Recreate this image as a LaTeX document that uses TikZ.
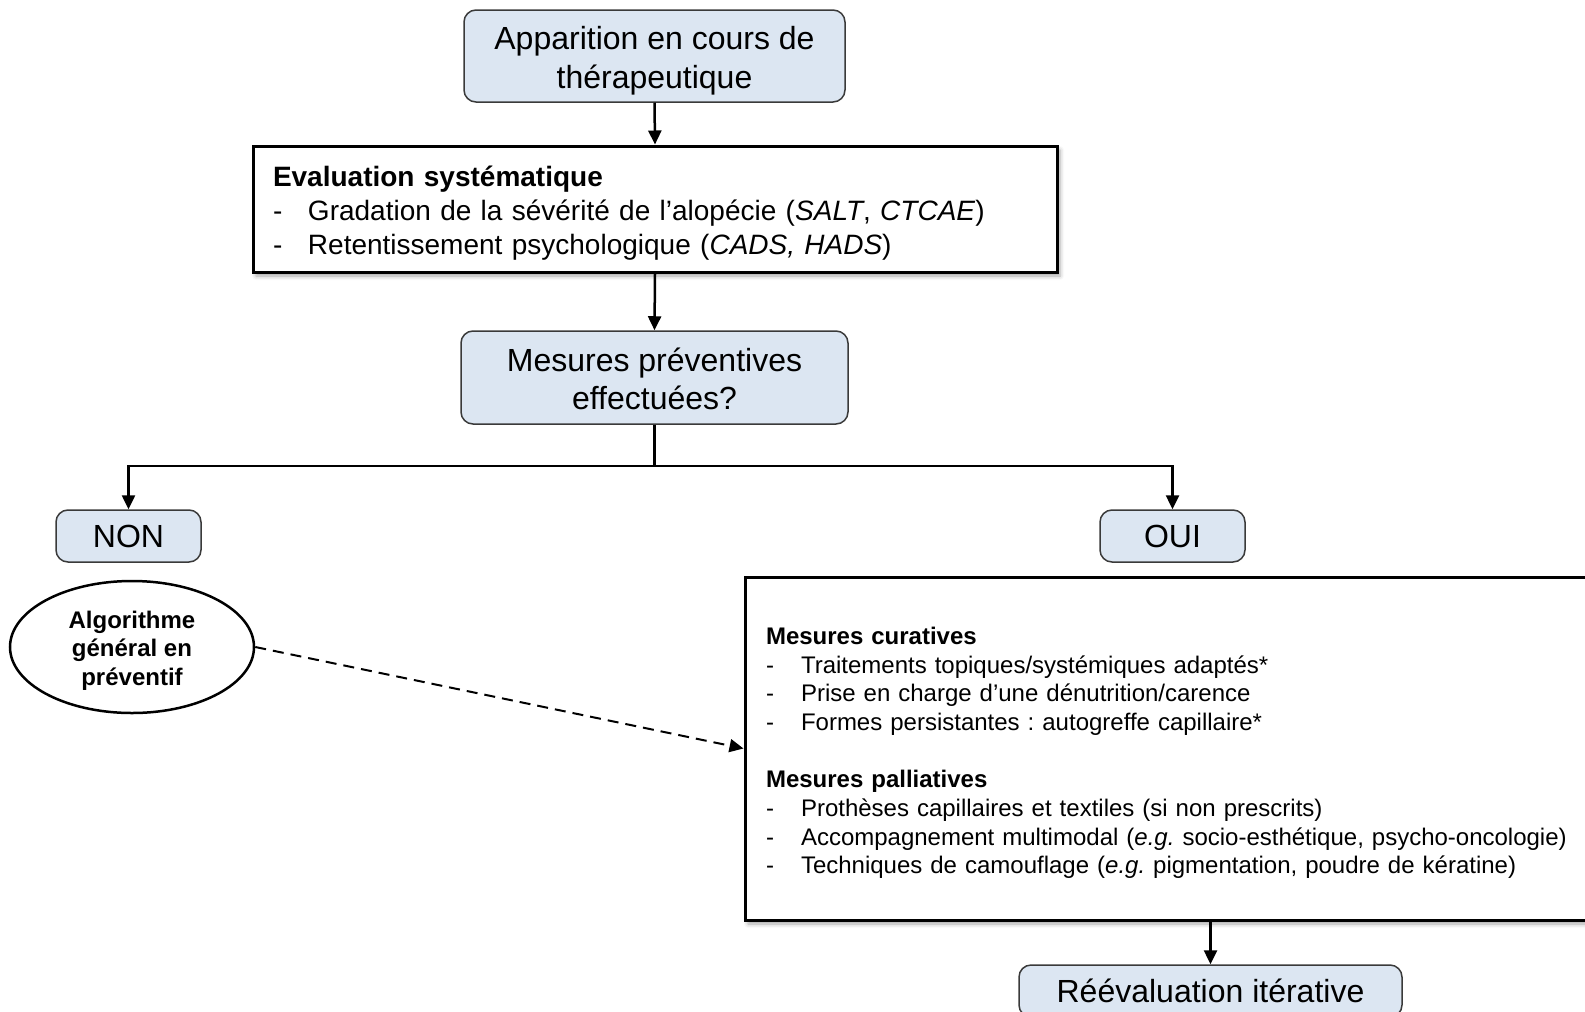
\documentclass[tikz,border=0pt]{standalone}
\usepackage{fontspec}
\setmainfont{Liberation Sans}
\usetikzlibrary{arrows.meta,shapes.geometric,shadows.blur}
\frenchspacing
\definecolor{boxblue}{HTML}{DCE6F2}
\definecolor{boxline}{HTML}{3A3A3A}
\tikzset{
  rbox/.style={draw=boxline,line width=1.5pt,fill=boxblue,rounded corners=12pt,
    align=center,inner sep=0pt,font=\fontsize{32}{38.4}\selectfont},
  listbox/.style={draw=black,line width=3pt,fill=white,align=left,inner ysep=0pt,
    blur shadow={shadow xshift=3pt,shadow yshift=-4pt,shadow blur radius=4pt,shadow opacity=35}},
  arr/.style={line width=2.5pt,-{Triangle[length=14pt,width=13pt]}},
  plain/.style={line width=2.5pt},
  dasharr/.style={line width=2pt,dash pattern=on 11pt off 7pt,-{Triangle[length=14pt,width=13pt]}},
}
% a block of lines, lowered by #1 without changing its reported size
\newcommand{\linesdown}[3]{\raisebox{-#1}[\height][\depth]{\begin{tabular}{@{}#2@{}}#3\end{tabular}}}
\newcommand{\itm}[1]{\makebox[35pt][l]{-}#1}
\begin{document}
\begin{tikzpicture}[x=1pt,y=-1pt]
\useasboundingbox (0,0) rectangle (1585,1012);

% main column
\node[rbox,minimum width=381pt,minimum height=92pt] (top) at (654.5,56)
  {\linesdown{5.5pt}{c}{Apparition en cours de\\thérapeutique}};

\node[listbox,minimum width=804pt,minimum height=126pt,inner xsep=20pt,text width=764pt,
  font=\fontsize{28}{34}\selectfont] (eval) at (655,209)
  {\linesdown{4.4pt}{l}{\textbf{Evaluation systématique}\\
   \itm{Gradation de la sévérité de l’alopécie (\textit{SALT}, \textit{CTCAE})}\\
   \itm{Retentissement psychologique (\textit{CADS, HADS})}}};

\node[rbox,minimum width=387pt,minimum height=93pt] (mes) at (654.5,377.5)
  {\linesdown{5.5pt}{c}{Mesures préventives\\effectuées?}};

\coordinate (split) at (654.5,466);

% branches
\node[rbox,minimum width=145pt,minimum height=52pt] (non) at (128.5,536) {NON};
\node[rbox,minimum width=145pt,minimum height=52pt] (oui) at (1172.5,536) {OUI};

\node[draw=black,line width=2.5pt,ellipse,minimum width=244pt,minimum height=132pt,
  inner sep=0pt,align=center,font=\bfseries\fontsize{24}{28.7}\selectfont] (algo) at (132,647)
  {\linesdown{4.2pt}{c}{Algorithme\\général en\\préventif}};

\node[listbox,minimum width=855pt,minimum height=343pt,inner xsep=21pt,text width=813pt,
  font=\fontsize{24}{28.7}\selectfont] (mesbox) at (1172.5,748.5)
  {\linesdown{4.9pt}{l}{\textbf{Mesures curatives}\\
   \itm{Traitements topiques/systémiques adaptés*}\\
   \itm{Prise en charge d’une dénutrition/carence}\\
   \itm{Formes persistantes : autogreffe capillaire*}\\
   \\
   \textbf{Mesures palliatives}\\
   \itm{Prothèses capillaires et textiles (si non prescrits)}\\
   \itm{Accompagnement multimodal (\textit{e.g.} socio-esthétique, psycho-oncologie)}\\
   \itm{Techniques de camouflage (\textit{e.g.} pigmentation, poudre de kératine)}}};

\node[rbox,minimum width=383pt,minimum height=52pt] (reev) at (1210.5,991)
  {Réévaluation itérative};

% connectors
\draw[arr] (top.south) -- (eval.north);
\draw[arr] (eval.south) -- (mes.north);
\draw[plain] (mes.south) -- (split);
\draw[arr] (split) -| (non.north);
\draw[arr] (split) -| (oui.north);
\draw[dasharr] (algo.east) -- (mesbox.west);
\draw[arr] (reev.north |- mesbox.south) -- (reev.north);
\end{tikzpicture}
\end{document}
